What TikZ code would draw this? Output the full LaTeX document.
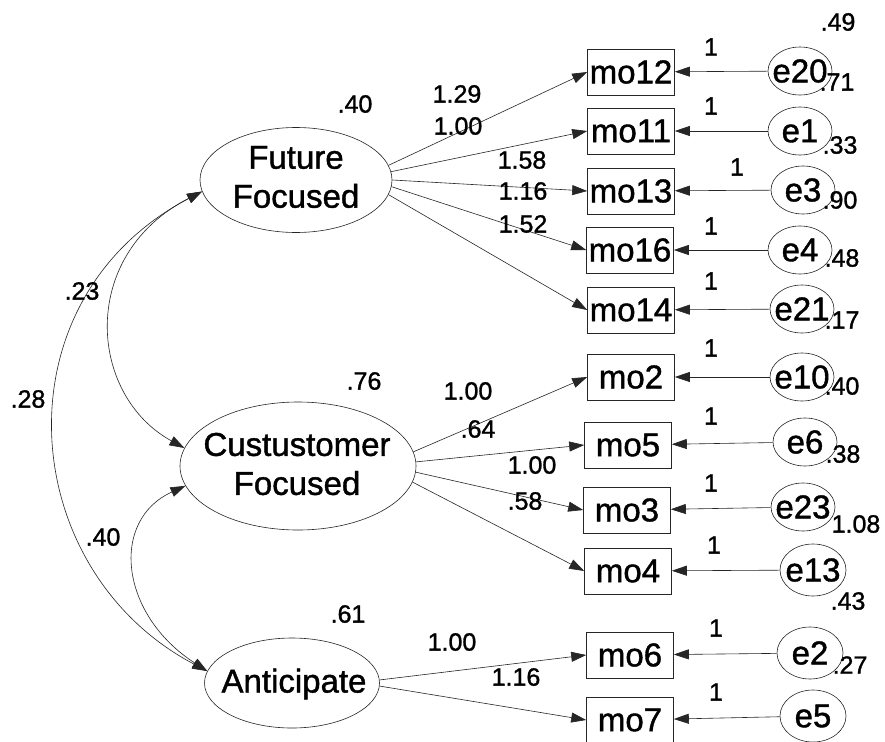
\documentclass[tikz,border=0pt]{standalone}
\usepackage{fontspec}
\setmainfont{Liberation Sans}[FakeBold=1.2]
\usetikzlibrary{shapes.geometric,arrows.meta}
\newcommand\semlarge{\fontsize{33}{39}\selectfont}
\newcommand\semnum{\fontsize{25}{30}\selectfont}
\begin{document}
\begin{tikzpicture}[x=1pt,y=1pt,
  conn/.style={draw=black!85, line width=0.6pt},
  tip/.tip={Triangle[length=15pt,width=10pt]},
  path arrow/.style={conn, -tip},
  cov arrow/.style={conn, tip-tip},
  latent/.style={ellipse, conn, inner sep=0pt},
  observed/.style={rectangle, conn, inner sep=0pt, minimum width=87pt, minimum height=46pt, font=\semlarge},
  errvar/.style={ellipse, conn, inner sep=0pt, minimum width=64pt, minimum height=48pt},
  bigtext/.style={font=\semlarge, inner sep=0pt, align=center},
  num/.style={font=\semnum, inner sep=0pt},
]
% page
\fill[white] (0,0) rectangle (885,-741);
\useasboundingbox (0,0) rectangle (885,-741);

% latent factors
\node[latent, minimum width=192pt, minimum height=105pt] (FF) at (296,-180) {};
\node[bigtext] (FFt) at (296,-177) {Future\\Focused};
\node[latent, minimum width=236pt, minimum height=128pt] (CF) at (298,-466) {};
\node[bigtext] (CFt) at (297,-464) {Custustomer\\Focused};
\node[latent, minimum width=175pt, minimum height=90pt] (AN) at (292,-683) {};
\node[bigtext] (ANt) at (294,-684) {Anticipate};

% indicators
\node[observed] (mo12) at (631,-72)  {mo12};
\node[observed] (mo11) at (631,-131) {mo11};
\node[observed] (mo13) at (631,-191) {mo13};
\node[observed] (mo16) at (630,-250) {mo16};
\node[observed] (mo14) at (631,-310) {mo14};
\node[observed] (mo2)  at (631,-377) {mo2};
\node[observed] (mo5)  at (628,-445) {mo5};
\node[observed] (mo3)  at (627,-510) {mo3};
\node[observed] (mo4)  at (628,-571) {mo4};
\node[observed] (mo6)  at (630,-655) {mo6};
\node[observed] (mo7)  at (630,-720) {mo7};

% error terms
\foreach \n/\x/\y in {e20/800/71, e1/800/131, e3/803/190, e4/800/250, e21/802/309,
                      e10/802/377, e6/805/442, e23/803/507}
  {\node[errvar] (\n) at (\x,-\y) {};
   \node[bigtext] (\n t) at (\x,-\y) {\n};}
\foreach \n/\x/\y in {e13/813/570, e2/810/653, e5/813/716}
  {\node[errvar, minimum width=66pt, minimum height=52pt] (\n) at (\x,-\y) {};
   \node[bigtext] (\n t) at (\x,-\y) {\n};}

% error paths
\foreach \e/\m in {e20/mo12, e1/mo11, e3/mo13, e4/mo16, e21/mo14,
                   e10/mo2, e6/mo5, e23/mo3, e13/mo4, e2/mo6, e5/mo7}
  \draw[path arrow] (\e) -- (\m);

% factor loadings
\draw[path arrow] (FF.9)  -- (mo12.west);
\draw[path arrow] (FF.5)  -- (mo11.west);
\draw[path arrow] (FF.0)  -- (mo13.west);
\draw[path arrow] (FF.-4) -- (mo16.west);
\draw[path arrow] (FF.-9) -- (mo14.west);
\draw[path arrow] (CF.7)  -- (mo2.west);
\draw[path arrow] (CF.2)  -- (mo5.west);
\draw[path arrow] (CF.-3) -- (mo3.west);
\draw[path arrow] (CF.-8) -- (mo4.west);
\draw[path arrow] (AN.2)  -- (mo6.west);
\draw[path arrow] (AN.-2) -- (mo7.west);

% factor covariances
\draw[cov arrow] (FF.187) .. controls (-5,-300) and (15,-570) .. (AN.172);
\draw[cov arrow] (FF.187) .. controls (78,-255) and (88,-395) .. (CF.171);
\draw[cov arrow] (CF.190) .. controls (110,-520) and (119,-614) .. (AN.172);

% loading estimates
\node[num] (l1)  at (457,-94)  {1.29};
\node[num] (l2)  at (458,-126) {1.00};
\node[num] (l3)  at (522,-160) {1.58};
\node[num] (l4)  at (523,-191) {1.16};
\node[num] (l5)  at (523,-224) {1.52};
\node[num] (l6)  at (468,-391) {1.00};
\node[num] (l7)  at (478,-429) {.64};
\node[num] (l8)  at (532,-465) {1.00};
\node[num] (l9)  at (525,-501) {.58};
\node[num] (l10) at (452,-642) {1.00};
\node[num] (l11) at (516,-677) {1.16};

% factor variances
\node[num] (vFF) at (355,-104) {.40};
\node[num] (vCF) at (364,-381) {.76};
\node[num] (vAN) at (348,-614) {.61};

% covariance estimates
\node[num] (c23) at (82,-291)  {.23};
\node[num] (c28) at (28,-399)  {.28};
\node[num] (c40) at (103,-537) {.40};

% fixed error loadings
\foreach \x/\y [count=\i] in {711/47, 711/106, 737/167, 711/226, 711/281, 711/348,
                   711/416, 711/483, 714/545, 716/628, 716/692}
  \node[num] (one\i) at (\x,-\y) {1};

% error variances
\foreach \x/\y/\v [count=\i] in {838/22/.49, 837/82/.71, 840/145/.33, 840/200/.90,
                   842/258/.48, 842/320/.17, 842/386/.40, 843/454/.38,
                   856/524/1.08, 848/601/.43, 850/665/.27}
  \node[num] (ev\i) at (\x,-\y) {\v};
\end{tikzpicture}
\end{document}
